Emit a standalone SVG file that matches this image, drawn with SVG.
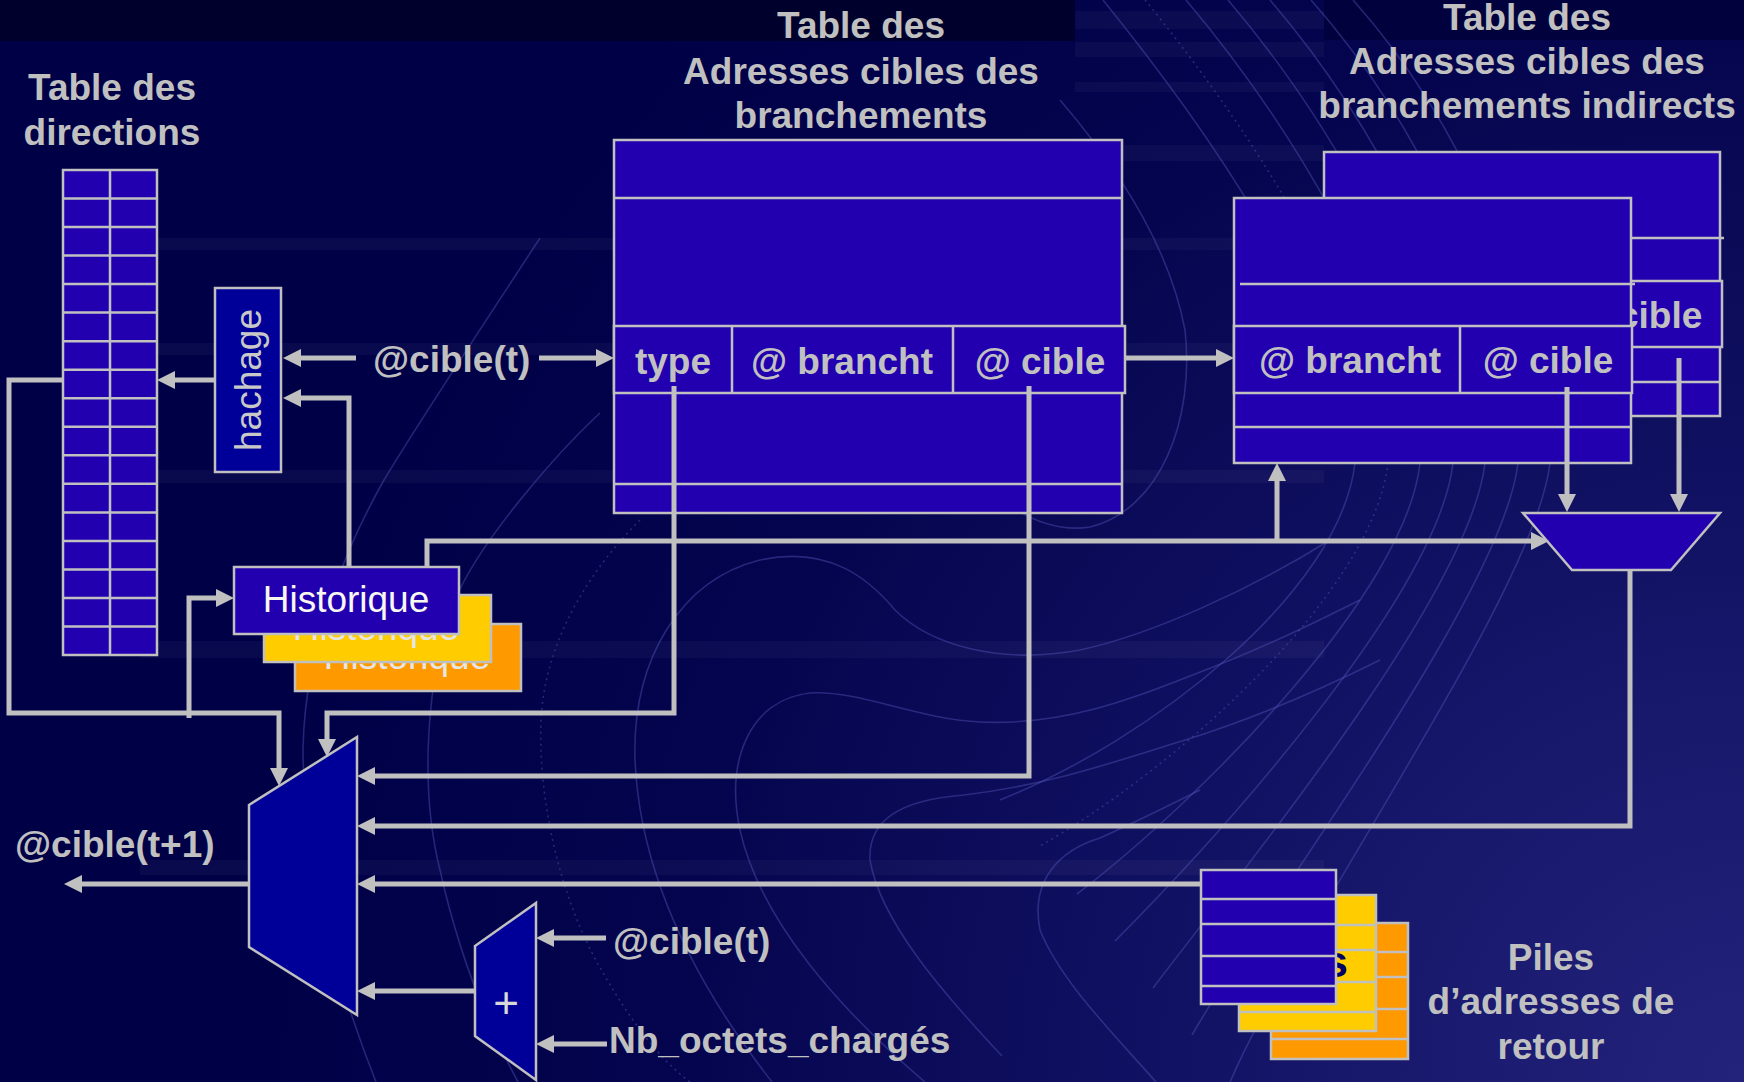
<svg xmlns="http://www.w3.org/2000/svg" width="1744" height="1082" viewBox="0 0 1744 1082">
  <defs>
    <radialGradient id="bg" cx="1744" cy="1082" r="1500" gradientUnits="userSpaceOnUse">
      <stop offset="0" stop-color="#23237c"/>
      <stop offset="0.35" stop-color="#131366"/>
      <stop offset="0.7" stop-color="#05054f"/>
      <stop offset="1" stop-color="#000047"/>
    </radialGradient>
    <marker id="arr" markerUnits="userSpaceOnUse" markerWidth="20" markerHeight="20" refX="12" refY="9" orient="auto">
      <path d="M0,0 L18,9 L0,18 Z" fill="#c0c0c0"/>
    </marker>
    <style>
      .deco{fill:none;stroke:#5a5ac0;stroke-width:1.6;opacity:.4}
      .dots{fill:none;stroke:#5a5ac0;stroke-width:1.6;opacity:.4;stroke-dasharray:2 4}
      .stripe{fill:#ffffff;opacity:.035}
      .cell{fill:#2200b0;stroke:#c0c0c0;stroke-width:2.5}
      .dark{fill:#000099;stroke:#c0c0c0;stroke-width:2.5}
      .rule{stroke:#c0c0c0;stroke-width:2.5;fill:none}
      .wire{fill:none;stroke:#c0c0c0;stroke-width:5;marker-end:url(#arr)}
      .lbl{font-family:"Liberation Sans",Arial,sans-serif;font-weight:bold;font-size:37px;fill:#c0c0c0}
      .mid{text-anchor:middle}
      .reg{font-family:"Liberation Sans",Arial,sans-serif;font-size:37px;text-anchor:middle}
    </style>
  </defs>

  <!-- background -->
  <rect width="1744" height="1082" fill="url(#bg)"/>
  <rect x="0" y="0" width="1075" height="41" fill="#00002c"/>
  <rect x="1324" y="0" width="420" height="40" fill="#000036" opacity="0.7"/>
  <g id="stripes">
    <rect class="stripe" x="140" y="238" width="1184" height="12"/>
    <rect class="stripe" x="140" y="343" width="1184" height="12"/>
    <rect class="stripe" x="140" y="470" width="1184" height="13"/>
    <rect class="stripe" x="140" y="641" width="1184" height="17"/>
    <rect class="stripe" x="140" y="860" width="1184" height="15"/>
    <rect class="stripe" x="1075" y="11" width="249" height="18"/>
    <rect class="stripe" x="1075" y="42" width="249" height="15"/>
    <rect class="stripe" x="1075" y="82" width="249" height="10"/>
    <rect class="stripe" x="1075" y="145" width="249" height="16"/>
  </g>
  <g id="contours">
    <path class="deco" d="M540,238 C480,330 420,420 384,480 C350,540 305,640 303,749 C303,830 320,940 376,1082"/>
    <path class="deco" d="M600,413 C560,450 480,540 455,600 C425,680 420,790 440,870 C460,960 490,1030 518,1082"/>
    <path class="dots" d="M640,520 C590,570 545,640 541,720 C538,800 560,900 602,971 C630,1020 660,1060 690,1082"/>
    <path class="deco" d="M772,1082 C700,990 640,880 635,760 C632,660 680,580 760,560 C830,545 870,580 895,610 C930,645 1000,665 1080,650 C1150,635 1250,590 1330,540"/>
    <path class="deco" d="M925,1082 C840,1010 760,920 740,830 C725,760 750,700 810,693 C860,690 920,720 980,722 C1060,726 1130,700 1190,676 C1260,650 1320,620 1360,600"/>
    <path class="deco" d="M1002,1056 C940,990 880,920 870,860 C868,820 900,800 964,795 C1050,785 1120,760 1182,741 C1250,720 1320,690 1380,660"/>
    <path class="deco" d="M1156,1082 C1110,1030 1060,980 1040,930 C1030,880 1060,850 1100,838 C1140,820 1170,805 1200,790"/>
    <path class="deco" d="M1060,100 C1120,170 1170,250 1185,330 C1195,420 1160,510 1090,527 C1060,532 1030,520 1010,505"/>
    <!-- sweeping bundle on the right -->
    <path class="deco" d="M1103,0 C1200,120 1330,300 1355,463 C1340,593 1150,740 1000,800"/>
    <path class="dots" d="M1145,0 C1243,120 1365,300 1388,463 C1373,593 1175,770 1038,847"/>
    <path class="deco" d="M1186,0 C1287,120 1400,300 1420,463 C1406,593 1200,800 1077,894"/>
    <path class="deco" d="M1228,0 C1330,120 1435,300 1453,463 C1438,593 1225,830 1115,941"/>
    <path class="deco" d="M1270,0 C1373,120 1470,300 1485,463 C1470,593 1250,860 1153,988"/>
    <path class="deco" d="M1311,0 C1417,120 1505,300 1518,463 C1503,593 1275,890 1192,1035"/>
    <path class="deco" d="M1353,0 C1460,120 1540,300 1550,463 C1535,593 1300,920 1230,1082"/>
  </g>

  <!-- titles -->
  <g id="titles" class="lbl mid">
    <text x="112" y="100">Table des</text>
    <text x="112" y="145">directions</text>
    <text x="861" y="38">Table des</text>
    <text x="861" y="84">Adresses cibles des</text>
    <text x="861" y="128">branchements</text>
    <text x="1527" y="30">Table des</text>
    <text x="1527" y="74">Adresses cibles des</text>
    <text x="1527" y="118">branchements indirects</text>
  </g>

  <!-- direction table: 17 rows x 2 columns -->
  <g id="direction-table">
    <rect class="cell" x="63" y="170" width="94" height="485"/>
    <path class="rule" d="M110,170 V655 M63,198.5 H157 M63,227 H157 M63,255.6 H157 M63,284.1 H157 M63,312.6 H157 M63,341.2 H157 M63,369.7 H157 M63,398.2 H157 M63,426.8 H157 M63,455.3 H157 M63,483.8 H157 M63,512.4 H157 M63,540.9 H157 M63,569.4 H157 M63,598 H157 M63,626.5 H157"/>
  </g>

  <!-- hash unit -->
  <g id="hachage">
    <rect class="dark" x="215" y="288" width="66" height="184"/>
    <text class="reg" transform="translate(248,380) rotate(-90)" y="13" fill="#c8c8c8">hachage</text>
  </g>

  <!-- branch target buffer -->
  <g id="btb">
    <rect class="cell" x="614" y="140" width="508" height="373"/>
    <path class="rule" d="M614,198 H1122 M614,484 H1122"/>
    <rect class="cell" x="614" y="326" width="511" height="67"/>
    <path class="rule" d="M732,326 V393 M953,326 V393"/>
    <g class="lbl mid">
      <text x="673" y="374">type</text>
      <text x="842" y="374">@ brancht</text>
      <text x="1040" y="374">@ cible</text>
    </g>
  </g>

  <!-- indirect target tables (back copy, then front copy) -->
  <g id="indirect-back">
    <rect class="cell" x="1324" y="152" width="396" height="264"/>
    <path class="rule" d="M1324,238 H1724 M1324,382 H1720"/>
    <rect class="cell" x="1324" y="281" width="398" height="66"/>
    <path class="rule" d="M1549,281 V347"/>
    <g class="lbl mid">
      <text x="1439" y="328">@ brancht</text>
      <text x="1637" y="328">@ cible</text>
    </g>
  </g>
  <g id="indirect-front">
    <rect class="cell" x="1234" y="198" width="397" height="265"/>
    <path class="rule" d="M1240,284 H1635 M1234,427 H1631"/>
    <rect class="cell" x="1234" y="326" width="398" height="67"/>
    <path class="rule" d="M1460,326 V393"/>
    <g class="lbl mid">
      <text x="1350" y="373">@ brancht</text>
      <text x="1548" y="373">@ cible</text>
    </g>
  </g>

  <!-- selector for indirect targets -->
  <g id="indirect-mux">
    <polygon class="cell" points="1523,513 1720,513 1671,570 1572,570"/>
  </g>

  <!-- history registers -->
  <g id="historique">
    <rect x="295" y="624" width="226" height="67" fill="#ff9900" stroke="#c0c0c0" stroke-width="2.5"/>
    <text class="reg" x="407" y="669" fill="#e6e6e6">Historique</text>
    <rect x="264" y="595" width="227" height="67" fill="#ffcc00" stroke="#c0c0c0" stroke-width="2.5"/>
    <text class="reg" x="376" y="640" fill="#e6e6e6">Historique</text>
    <rect class="cell" x="234" y="567" width="225" height="67"/>
    <text class="reg" x="346" y="612" fill="#f8f8f0">Historique</text>
  </g>

  <!-- return address stacks -->
  <g id="piles">
    <rect x="1271" y="923" width="137" height="136" fill="#ff9900" stroke="#c0c0c0" stroke-width="2.5"/>
    <path class="rule" d="M1271,952 H1408 M1271,977 H1408 M1271,1009 H1408 M1271,1039 H1408"/>
    <rect x="1239" y="895" width="137" height="136" fill="#ffcc00" stroke="#c0c0c0" stroke-width="2.5"/>
    <path class="rule" d="M1239,925 H1376 M1239,950 H1376 M1239,982 H1376 M1239,1012 H1376"/>
    <text x="1348" y="977" text-anchor="end" font-family="Liberation Sans, Arial, sans-serif" font-weight="bold" font-size="44" fill="#000066">s</text>
    <rect class="cell" x="1201" y="870" width="135" height="134"/>
    <path class="rule" d="M1201,899 H1336 M1201,924 H1336 M1201,956 H1336 M1201,986 H1336"/>
  </g>
  <g id="piles-label" class="lbl mid">
    <text x="1551" y="970">Piles</text>
    <text x="1551" y="1014">d’adresses de</text>
    <text x="1551" y="1059">retour</text>
  </g>

  <!-- next-address selector and adder -->
  <g id="mux">
    <polygon class="dark" points="249,805 357,737 357,1015 249,947"/>
  </g>
  <g id="adder">
    <polygon class="dark" points="475,946 536,903 536,1080 475,1036"/>
    <text x="506" y="1018" text-anchor="middle" font-family="Liberation Sans, Arial, sans-serif" font-size="44" fill="#d8d8d8">+</text>
  </g>

  <!-- signal labels -->
  <g id="labels" class="lbl">
    <text x="373" y="372">@cible(t)</text>
    <text x="15" y="857">@cible(t+1)</text>
    <text x="613" y="954">@cible(t)</text>
    <text x="609" y="1053">Nb_octets_chargés</text>
  </g>

  <!-- connectors -->
  <g id="connectors">
    <path class="wire" d="M356,358 H289"/>
    <path class="wire" d="M539,358 H608"/>
    <path class="wire" d="M215,380 H163"/>
    <path class="wire" d="M349,567 V398 H289"/>
    <path class="wire" d="M63,380 H9 V713 H279 V780"/>
    <path class="wire" d="M189,718 V598 H228"/>
    <path class="wire" d="M674,386 V713 H327 V751"/>
    <path class="wire" d="M1029,386 V776 H363"/>
    <path class="wire" d="M1125,358 H1228"/>
    <path class="wire" d="M427,567 V541 H1543"/>
    <path class="wire" d="M1277,541 V469"/>
    <path class="wire" d="M1567,387 V506"/>
    <path class="wire" d="M1679,358 V506"/>
    <path class="wire" d="M1630,570 V826 H363"/>
    <path class="wire" d="M1201,884 H363"/>
    <path class="wire" d="M475,991 H363"/>
    <path class="wire" d="M249,884 H70"/>
    <path class="wire" d="M606,938 H542"/>
    <path class="wire" d="M607,1044 H542"/>
  </g>
</svg>
